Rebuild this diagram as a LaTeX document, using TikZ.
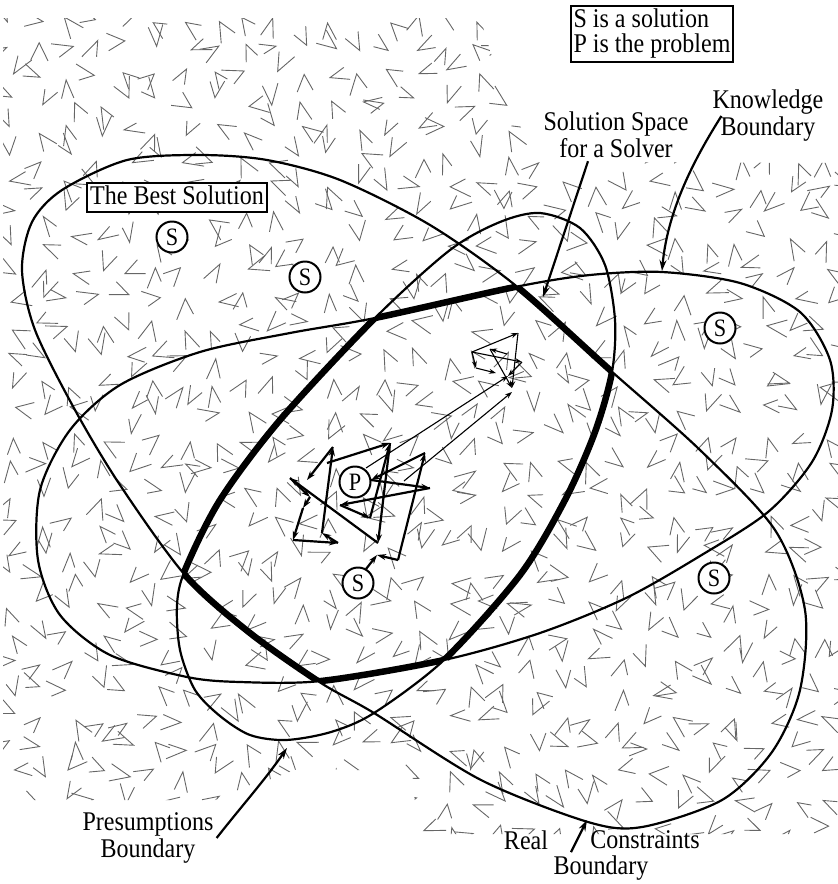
\documentclass[tikz,border=0pt]{standalone}
\usepackage{fontspec}
\setmainfont{Liberation Serif}[FakeStretch=0.89]
\usetikzlibrary{arrows.meta}

% boundary curves, in pixel units
\def\curvereal{plot[smooth cycle] coordinates {(127,160) (200,155) (267,160) (340,180) (430,225) (515,285) (610,370) (700,450) (775,530) (805,610) (800,690) (772,752) (722,800) (642,827) (588,822) (481,780) (374,713) (321,683) (250,633) (185,575) (120,485) (75,410) (35,330) (22,270) (32,222) (62,190)}}
\def\curveknow{plot[smooth cycle] coordinates {(40,490) (70,430) (120,385) (200,352) (290,333) (375,318) (515,287) (590,275) (662,272) (740,283) (800,312) (830,360) (832,410) (812,462) (768,512) (700,556) (626,598) (540,633) (444,660) (321,681) (240,682) (187,677) (110,655) (60,615) (38,560)}}
\def\curvepres{plot[smooth cycle] coordinates {(540,213) (580,228) (605,265) (615,320) (612,372) (595,432) (565,500) (520,575) (444,660) (374,713) (331,732) (286,740) (250,735) (220,716) (195,690) (180,650) (177,605) (185,570) (220,500) (280,420) (375,318) (450,250) (500,222)}}

\begin{document}
\begin{tikzpicture}[x=1pt, y=-1pt,
  every node/.style={font=\fontsize{27}{27}\selectfont},
  grain/.style={draw=black!60, line width=0.9pt},
  boundary/.style={line width=2.2pt},
  solspace/.style={line width=6.5pt, line join=round},
  pointer/.style={line width=2.2pt, -{Stealth[length=11pt,width=7pt]}},
  walk/.style={line width=2.2pt, -{Stealth[length=9pt,width=6pt]}},
  hop/.style={line width=1.1pt, -{Stealth[length=7pt,width=5pt]}},
  pt/.style={circle, draw, line width=2pt, fill=white, minimum size=31pt,
             inner sep=0pt, font=\fontsize{25}{25}\selectfont},
  tag/.style={align=center, inner sep=3pt}]
  \useasboundingbox (0,0) rectangle (838,884);

  % textured ground
  \begin{scope}
    \clip (3,18) -- (480,18) .. controls (497,70) and (515,150) .. (560,162)
      -- (838,163) -- (838,834) -- (418,834) -- (412,772) -- (300,768)
      -- (215,800) -- (3,800) -- cycle;
    \pgfmathsetseed{2024}
    \foreach \i in {0,...,29}{
      \foreach \j in {0,...,30}{
        \pgfmathsetmacro{\vx}{6+\i*29+rnd*12}
        \pgfmathsetmacro{\vy}{12+\j*28+rnd*12}
        \pgfmathsetmacro{\va}{rnd*360}
        \pgfmathsetmacro{\vh}{18+rnd*9}
        \pgfmathsetmacro{\vl}{17+rnd*6}
        \pgfmathsetmacro{\vm}{14+rnd*8}
        \draw[grain] (\vx,\vy) ++(\va+\vh:\vl) -- ++(\va+\vh+180:\vl) -- ++(\va-\vh:\vm);
      }
    }
  \end{scope}

  % the three boundaries
  \draw[boundary] \curvereal;
  \draw[boundary] \curveknow;
  \draw[boundary] \curvepres;

  % solution space = common part
  \begin{scope}
    \clip \curveknow; \clip \curvepres;
    \draw[solspace] \curvereal;
  \end{scope}
  \begin{scope}
    \clip \curvereal; \clip \curvepres;
    \draw[solspace] \curveknow;
  \end{scope}
  \begin{scope}
    \clip \curvereal; \clip \curveknow;
    \draw[solspace] \curvepres;
  \end{scope}

  % random search around P
  \coordinate (w0) at (366,569);
  \coordinate (w1) at (377,555);
  \coordinate (w2) at (398,560);
  \coordinate (w3) at (425,453);
  \coordinate (w4) at (371,480);
  \coordinate (w5) at (430,488);
  \coordinate (w6) at (340,505);
  \coordinate (w7) at (370,518);
  \coordinate (w8) at (390,443);
  \coordinate (w9) at (378,543);
  \coordinate (w10) at (290,478);
  \coordinate (w11) at (310,497);
  \coordinate (w12) at (303,508);
  \coordinate (w13) at (293,540);
  \coordinate (w14) at (338,543);
  \coordinate (w15) at (322,533);
  \coordinate (w16) at (333,447);
  \coordinate (w17) at (307,480);
  \coordinate (w18) at (327,463);
  \foreach \a/\b in {w0/w1, w2/w1, w2/w3, w3/w4, w4/w5, w5/w6, w6/w7, w7/w8,
                     w8/w9, w9/w10, w10/w11, w11/w12, w12/w13, w13/w14,
                     w14/w15, w15/w16, w16/w17, w18/w8}
    \draw[walk] (\a) -- (\b);

  % small search near the far corner
  \coordinate (c1) at (472,352);
  \coordinate (c2) at (518,333);
  \coordinate (c3) at (512,388);
  \coordinate (c4) at (476,368);
  \coordinate (c5) at (496,373);
  \coordinate (c6) at (490,349);
  \coordinate (c7) at (507,354);
  \coordinate (c8) at (522,362);
  \coordinate (c9) at (508,376);
  \foreach \a/\b in {c1/c2, c2/c3, c1/c4, c4/c5, c7/c6, c1/c8, c8/c9, c6/c3}
    \draw[hop] (\a) -- (\b);

  % jumps from P to the corner
  \coordinate (j1) at (366,468);
  \coordinate (j2) at (404,481);
  \draw[hop] (j1) -- (c9);
  \draw[hop] (j2) -- (512,392);

  % solutions and problem
  \node[pt] (s1) at (172,237) {S};
  \node[pt] (s2) at (305,277) {S};
  \node[pt] (s3) at (720,328) {S};
  \node[pt] (s4) at (358,583) {S};
  \node[pt] (s5) at (714,578) {S};
  \node[pt] (p)  at (355,482) {P};

  % labels
  \node[draw, line width=2pt, align=left, inner sep=3pt,
        font=\fontsize{27}{25}\selectfont] (legend) at (652,34)
       {S is a solution\\P is the problem};
  \node[draw, fill=white, line width=2pt, inner sep=3pt,
        text height=19pt, text depth=4pt] (best) at (177,197) {The Best Solution};
  \node[tag] (space) at (616,135) {Solution Space\\for a Solver};
  \node[tag] (know) at (768,116) {Knowledge\\Boundary};
  \node[tag] (presum) at (148,838) {Presumptions\\Boundary};
  \node (real) at (526,840) {Real};
  \node (constr) at (645,840) {Constraints};
  \node (realb) at (601,868) {Boundary};

  \coordinate (spaceend) at (543,297);
  \coordinate (knowend) at (662,271);
  \coordinate (presend) at (287,748);
  \coordinate (realend) at (587,820);
  \draw[pointer] ([xshift=-28pt]space.south) -- (spaceend);
  \draw[pointer] ([xshift=12pt]know.west) .. controls (700,150) and (668,205) .. (knowend);
  \draw[pointer] (presum.east) .. controls (240,808) and (265,780) .. (presend);
  \draw[pointer] ([xshift=-30pt]realb.north) -- (realend);
\end{tikzpicture}
\end{document}
